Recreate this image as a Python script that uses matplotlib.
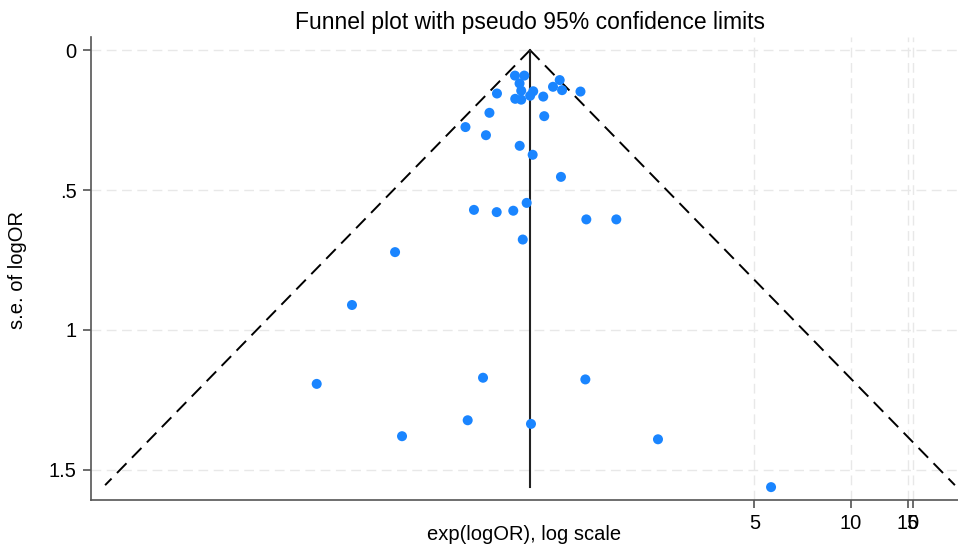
import numpy as np
import matplotlib
matplotlib.use("Agg")
import matplotlib.pyplot as plt

plt.rcParams['font.family'] = ['Liberation Sans', 'DejaVu Sans']

# study estimates (log odds ratio, standard error)
log_or = [-0.108, -0.041, -0.075, -0.063, 0.023, -0.237, -0.106, -0.063, 0.001, 0.095,
          0.165, 0.213, 0.230, 0.362, -0.291, 0.102, -0.463, -0.316, -0.074, 0.019,
          0.222, -0.024, -0.402, -0.239, -0.120, 0.404, 0.619, -0.052, -0.968, -1.277,
          -1.530, -0.337, 0.397, -0.447, -0.918, 0.007, 0.918, 1.729]
se = [0.091, 0.091, 0.119, 0.145, 0.147, 0.155, 0.174, 0.177, 0.163, 0.166,
      0.131, 0.107, 0.143, 0.148, 0.224, 0.236, 0.275, 0.304, 0.342, 0.374,
      0.453, 0.546, 0.571, 0.579, 0.574, 0.605, 0.605, 0.677, 0.722, 0.911,
      1.193, 1.171, 1.177, 1.323, 1.380, 1.336, 1.391, 1.562]

pooled = 0.0
se_max = 1.555
xtick_pos = [np.log(5), np.log(10), np.log(15), 2.748]
xtick_lab = ['5', '10', '15', '0']
ytick_pos = [0, 0.5, 1, 1.5]
ytick_lab = ['0', '.5', '1', '1.5']

fig = plt.figure(figsize=(9.58, 5.44), dpi=100)
ax = fig.add_axes([0.0947, 0.0809, 0.9053, 0.8511])

for p in xtick_pos:
    ax.axvline(p, color='#e8e8e8', lw=1, ls=(0, (7, 4)), zorder=0)
for p in ytick_pos:
    ax.axhline(p, color='#e8e8e8', lw=1, ls=(0, (7, 4)), zorder=0)

# pseudo 95% limits
s = np.array([0, se_max])
ax.plot(pooled - 1.96 * s, s, color='black', lw=1.4, ls=(0, (7, 4)), zorder=2)
ax.plot(pooled + 1.96 * s, s, color='black', lw=1.4, ls=(0, (7, 4)), zorder=2)
ax.plot([pooled, pooled], [0, 1.562], color='#222222', lw=1.5, zorder=2)

ax.scatter(log_or, se, s=52, color='#1a85ff', edgecolors='none', zorder=3, clip_on=False)

ax.set_xlim(-3.151, 3.07)
ax.set_ylim(1.608, -0.047)
ax.set_xticks(xtick_pos)
ax.set_xticklabels(xtick_lab)
ax.set_yticks(ytick_pos)
ax.set_yticklabels(ytick_lab)
ax.tick_params(axis='both', labelsize=14.5, length=6, width=1.1, color='#444444', pad=4)

for sp in ['top', 'right']:
    ax.spines[sp].set_visible(False)
for sp in ['left', 'bottom']:
    ax.spines[sp].set_color('#555555')
    ax.spines[sp].set_linewidth(1.2)

fig.text(530 / 958, 1 - 22 / 544, 'Funnel plot with pseudo 95% confidence limits',
         ha='center', va='center', fontsize=16.5)
fig.text(18 / 958, 1 - 270 / 544, 's.e. of logOR', rotation=90,
         ha='center', va='center', fontsize=14.5)
fig.text(524 / 958, 1 - 535 / 544, 'exp(logOR), log scale',
         ha='center', va='center', fontsize=14.5)

fig.savefig('out.png', dpi=100)
